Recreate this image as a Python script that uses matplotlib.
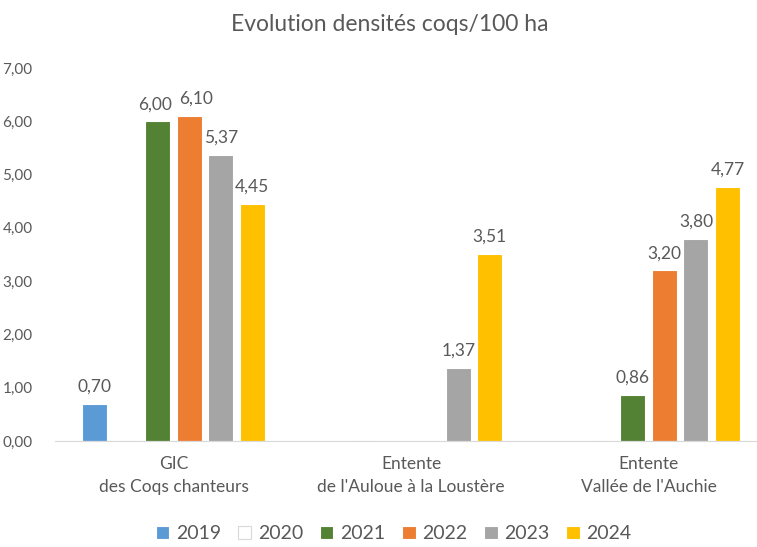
import matplotlib
matplotlib.use('Agg')
import matplotlib.pyplot as plt
import numpy as np

plt.rcParams['font.family'] = ['Lato', 'DejaVu Sans']

# data
categories = ['GIC\ndes Coqs chanteurs',
              "Entente\nde l'Auloue à la Loustère",
              "Entente\nVallée de l'Auchie"]
years = ['2019', '2020', '2021', '2022', '2023', '2024']
values = {
    '2019': [0.70, None, None],
    '2020': [None, None, None],
    '2021': [6.00, None, 0.86],
    '2022': [6.10, None, 3.20],
    '2023': [5.37, 1.37, 3.80],
    '2024': [4.45, 3.51, 4.77],
}
colors = ['#5B9BD5', '#FFFFFF', '#548235', '#ED7D31', '#A5A5A5', '#FFC000']
yticks = [0, 1, 2, 3, 4, 5, 6, 7]

txt = '#595959'

fig = plt.figure(figsize=(7.57, 5.47), dpi=100)
ax = fig.add_axes([54.7/757, 106/547, (767.5-54.7)/757, 373/547])

x = np.arange(len(categories))
step = 0.1326
width = 0.105
for i, yr in enumerate(years):
    vals = np.array([np.nan if v is None else v for v in values[yr]], dtype=float)
    pos = x + (i - 2.5)*step
    edge = '#D9D9D9' if yr == '2020' else 'white'
    ax.bar(pos, np.nan_to_num(vals), width, color=colors[i], edgecolor=edge,
           linewidth=0.8, label=yr)
    for j, (p, v) in enumerate(zip(pos, vals)):
        if not np.isnan(v):
            # labels 6,00 / 6,10 nudged apart like in the source chart
            dx = 0.03 if (yr == '2022' and j == 0) else (-0.01 if (yr == '2021' and j == 0) else 0)
            ax.text(p + dx, v + 0.17, f'{v:.2f}'.replace('.', ','), ha='center',
                    va='bottom', fontsize=12.5, color=txt)

ax.set_xlim(-0.5, 2.5)
ax.set_ylim(0, 7)
ax.set_yticks(yticks)
ax.set_yticklabels([f'{t:.2f}'.replace('.', ',') for t in yticks])
ax.set_xticks(x)
ax.set_xticklabels(categories, fontsize=12.5, color=txt, linespacing=1.55)
ax.tick_params(axis='y', length=0, labelsize=11, labelcolor=txt, pad=16)
ax.tick_params(axis='x', length=0, pad=11)
for s in ['top', 'right', 'left']:
    ax.spines[s].set_visible(False)
ax.spines['bottom'].set_color('#D9D9D9')

fig.text(0.515, 0.955, 'Evolution densités coqs/100 ha', ha='center', va='center',
         fontsize=16.5, color=txt)

fig.legend(loc='lower center', bbox_to_anchor=(0.52, 0.0), ncol=6, frameon=False,
           fontsize=14, labelcolor=txt, handlelength=0.7, handleheight=0.7,
           handletextpad=0.35, columnspacing=0.85, borderaxespad=0.1,
           borderpad=0.15)

fig.savefig('out.png', dpi=100)
